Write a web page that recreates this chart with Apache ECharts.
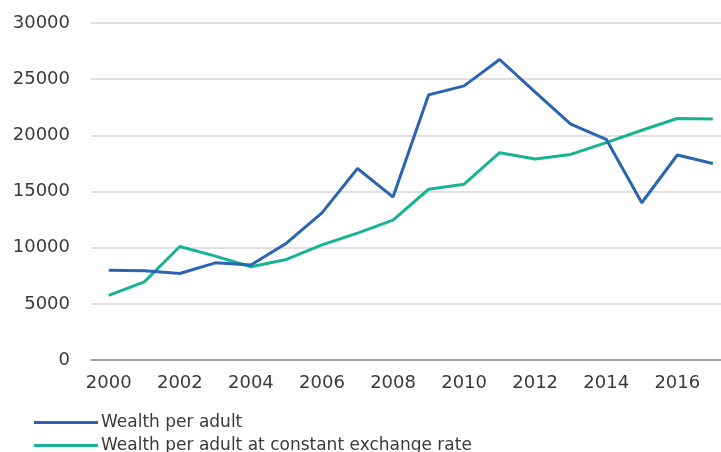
<!DOCTYPE html>
<html>
<head>
<meta charset="utf-8">
<script src="https://cdn.jsdelivr.net/npm/echarts@6/dist/echarts.min.js"></script>
<style>
  html, body { margin: 0; padding: 0; background: #fff; }
  #chart { width: 721px; height: 452px; }
</style>
</head>
<body>
<div id="chart"></div>
<script>
// Years on the x axis
const years = [2000, 2001, 2002, 2003, 2004, 2005, 2006, 2007, 2008,
               2009, 2010, 2011, 2012, 2013, 2014, 2015, 2016, 2017];
// Labelled years
const yearTicks = [2000, 2002, 2004, 2006, 2008, 2010, 2012, 2014, 2016];

const wealthPerAdult = [8000, 7950, 7700, 8650, 8450, 10400, 13100, 17050, 14500,
                        23600, 24400, 26750, 23850, 21000, 19650, 14000, 18250, 17500];
const wealthConstantFx = [5750, 6950, 10100, 9250, 8300, 8950, 10250, 11300, 12450,
                          15200, 15650, 18450, 17900, 18300, 19350, 20450, 21500, 21450];

const seriesNames = ['Wealth per adult', 'Wealth per adult at constant exchange rate'];
const seriesColors = ['#2b64b0', '#17b394'];

const font = 'DejaVu Sans, sans-serif';
const textColor = '#3a3a3a';

// One single-item legend per row, so each row sits exactly where it should
function legendRow(name, top) {
  return {
    orient: 'vertical',
    left: 29,
    top: top,
    itemWidth: 64,
    itemHeight: 3,
    icon: 'rect',
    textStyle: { fontFamily: font, fontSize: 17, color: textColor, padding: [0, 0, 0, -2] },
    data: [name]
  };
}

const chart = echarts.init(document.getElementById('chart'));
chart.setOption({
  animation: false,
  backgroundColor: '#ffffff',
  grid: { left: 91, right: 0, top: 23, bottom: 92, containLabel: false },
  legend: [legendRow(seriesNames[0], 409), legendRow(seriesNames[1], 432)],
  xAxis: {
    type: 'value',
    min: 1999.5,
    max: 2017.23,
    splitLine: { show: false },
    axisTick: { show: false },
    axisLine: { show: true, lineStyle: { color: '#8a8a8a', width: 1.5 } },
    axisLabel: {
      customValues: yearTicks,
      formatter: v => String(v),
      fontFamily: font, fontSize: 18, color: textColor, margin: 14
    }
  },
  yAxis: {
    type: 'value',
    min: 0, max: 30000, interval: 5000,
    axisLine: { show: false },
    axisTick: { show: false },
    splitLine: { lineStyle: { color: '#d6d6d6', width: 1.5 } },
    axisLabel: {
      formatter: v => String(v),
      fontFamily: font, fontSize: 18, color: textColor, margin: 21
    }
  },
  series: [
    {
      name: seriesNames[0], type: 'line', symbol: 'none',
      lineStyle: { width: 3, color: seriesColors[0] },
      itemStyle: { color: seriesColors[0] },
      data: years.map((y, i) => [y, wealthPerAdult[i]]),
      z: 3
    },
    {
      name: seriesNames[1], type: 'line', symbol: 'none',
      lineStyle: { width: 3, color: seriesColors[1] },
      itemStyle: { color: seriesColors[1] },
      data: years.map((y, i) => [y, wealthConstantFx[i]]),
      z: 2
    }
  ]
});
</script>
</body>
</html>
